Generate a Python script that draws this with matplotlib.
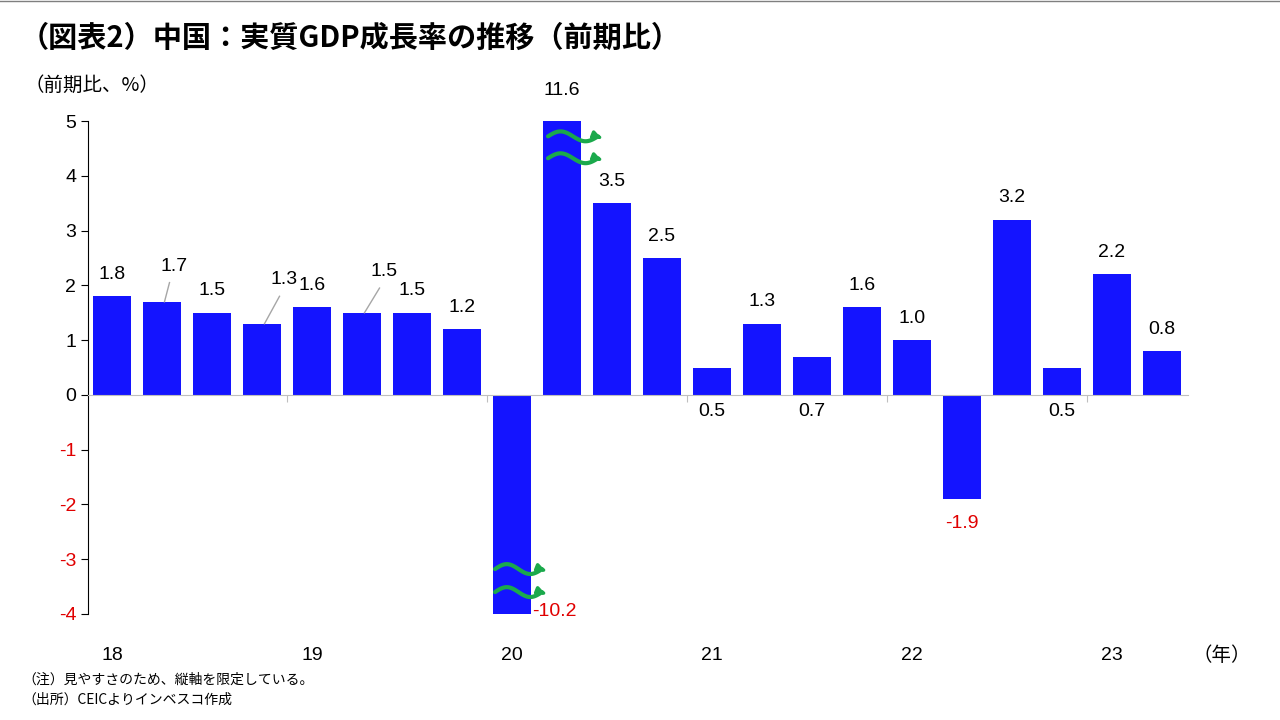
import matplotlib
matplotlib.use("Agg")
import matplotlib.pyplot as plt
import numpy as np

values = [1.8, 1.7, 1.5, 1.3, 1.6, 1.5, 1.5, 1.2, -10.2, 11.6, 3.5, 2.5,
          0.5, 1.3, 0.7, 1.6, 1.0, -1.9, 3.2, 0.5, 2.2, 0.8]
year_labels = ["18", "19", "20", "21", "22", "23"]
yticks = [-4, -3, -2, -1, 0, 1, 2, 3, 4, 5]

JP = "Noto Sans CJK JP"
NUM = "Liberation Sans"
BLUE = "#1414FF"
RED = "#E00000"

fig = plt.figure(figsize=(12.8, 7.2), dpi=100)
ax = fig.add_axes([88/1280, 1-614/720, 1100/1280, 493/720])
ymin, ymax = -4, 5
x = np.arange(len(values))
clipped = np.clip(values, ymin, ymax)
ax.bar(x, clipped, width=0.76, color=BLUE, zorder=2)
ax.set_xlim(-0.48, len(values) - 0.48)
ax.set_ylim(ymin, ymax)
for s in ["top", "right"]:
    ax.spines[s].set_visible(False)
ax.spines["bottom"].set_position(("data", 0))
ax.spines["bottom"].set_color("#BFBFBF")
ax.spines["left"].set_color("black")
ax.set_yticks(yticks)
ax.set_yticklabels([str(t) for t in yticks], fontsize=14, fontfamily=NUM)
for lab, t in zip(ax.get_yticklabels(), yticks):
    if t < 0:
        lab.set_color(RED)
ax.tick_params(axis="y", length=5, direction="out")
ax.set_xticks(np.arange(3.5, len(values), 4))
ax.set_xticklabels([])
ax.tick_params(axis="x", length=5, color="#BFBFBF", direction="out")
for i, yl in enumerate(year_labels):
    ax.text(i * 4, -4.75, yl, ha="center", va="center", fontsize=14, fontfamily=NUM)
ax.text(21.6, -4.75, "（年）", ha="left", va="center", fontsize=14, fontfamily=JP)

# value labels
leader = {1: (0.2, 2.35), 3: (0.4, 2.1), 5: (0.4, 2.25)}
for i, v in enumerate(values):
    txt = f"{v:.1f}"
    if v > ymax:
        ax.text(i, ymax + 0.55, txt, ha="center", va="center", fontsize=14, fontfamily=NUM)
    elif v < ymin:
        ax.text(i + 0.4, ymin + 0.05, txt, ha="left", va="center", fontsize=14,
                fontfamily=NUM, color=RED)
    elif v < 0:
        ax.text(i, v - 0.45, txt, ha="center", va="center", fontsize=14,
                fontfamily=NUM, color=RED)
    elif v < 0.8:
        ax.text(i, -0.3, txt, ha="center", va="center", fontsize=14, fontfamily=NUM)
    elif i in leader:
        dx, ly = leader[i]
        ax.text(i + dx + 0.05, v + ly - v + 0.0, txt, ha="center", va="center",
                fontsize=14, fontfamily=NUM)
        ax.plot([i + 0.05, i + dx - 0.05], [v, ly - 0.3], color="#A6A6A6", lw=1, zorder=3)
    else:
        ax.text(i, v + 0.4, txt, ha="center", va="center", fontsize=14, fontfamily=NUM)

# wavy break marks
def wave(x0, x1, y0):
    xs = np.linspace(x0, x1, 60)
    ys = y0 + 0.09 * np.sin((xs - x0) / (x1 - x0) * 2 * np.pi)
    ax.plot(xs, ys, color="#1BA94C", lw=3, clip_on=False, zorder=4, solid_capstyle="round")
    ax.annotate("", xy=(x1 + 0.12, ys[-1] - 0.05), xytext=(x1 - 0.02, ys[-1]),
                arrowprops=dict(arrowstyle="-|>", color="#1BA94C", lw=2.5), annotation_clip=False)
for y0 in (4.72, 4.32):
    wave(8.72, 9.72, y0)
for y0 in (-3.18, -3.6):
    wave(7.66, 8.6, y0)

fig.text(20/1280, 1-38/720, "（図表2）中国：実質GDP成長率の推移（前期比）", fontsize=21,
         fontweight="bold", fontfamily=JP, va="center")
fig.text(25/1280, 1-85/720, "（前期比、%）", fontsize=14, fontfamily=JP, va="center")
fig.text(22/1280, 1-680/720, "（注）見やすさのため、縦軸を限定している。", fontsize=10, fontfamily=JP, va="center")
fig.text(22/1280, 1-700/720, "（出所）CEICよりインベスコ作成", fontsize=10, fontfamily=JP, va="center")
fig.add_artist(plt.Line2D([0, 1], [0.999, 0.999], color="#7F7F7F", lw=1))

fig.savefig("out.png", dpi=100)
